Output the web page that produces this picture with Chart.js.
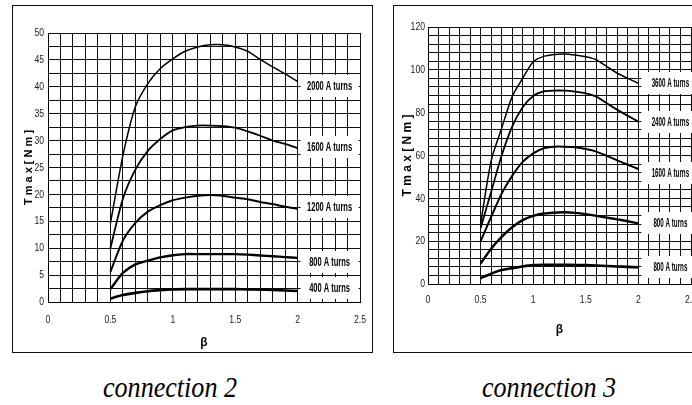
<!DOCTYPE html>
<html>
<head>
<meta charset="utf-8">
<script src="https://cdn.jsdelivr.net/npm/chart.js@4.4.1/dist/chart.umd.min.js"></script>
<style>
  html, body { margin: 0; padding: 0; background: #fff; }
  body { position: relative; width: 692px; height: 405px; overflow: hidden; }
  .box { position: absolute; border: 1.5px solid #111; box-sizing: border-box; }
  #box2 { left: 12px; top: 5px; width: 361px; height: 348px; }
  #box3 { left: 393px; top: 5px; width: 360px; height: 348px; }
  canvas { position: absolute; }
  #c2 { left: 13px; top: 6px; }
  #c3 { left: 394px; top: 6px; }
  .caption {
    position: absolute; top: 373px; width: 220px; text-align: center;
    font-family: "Liberation Serif", "Times New Roman", serif;
    font-style: italic; font-size: 29px; line-height: 29px;
    transform: scaleX(0.9); color: #000;
  }
  #cap2 { left: 60px; }
  #cap3 { left: 439px; }
</style>
</head>
<body>
<div class="box" id="box2"></div>
<div class="box" id="box3"></div>
<canvas id="c2" width="358" height="345"></canvas>
<canvas id="c3" width="340" height="345"></canvas>
<div class="caption" id="cap2">connection 2</div>
<div class="caption" id="cap3">connection 3</div>

<script>
// beta values shared by every curve
const betas = [0.5, 0.6, 0.7, 0.8, 0.9, 1.0, 1.1, 1.2, 1.3, 1.4, 1.5, 1.6, 1.7, 1.8, 1.9, 2.0];

// connection 2 - Tmax [Nm]
const conn2Labels = ['2000 A turns', '1600 A turns', '1200 A turns', '800 A turns', '400 A turns'];
const conn2T2000 = [14.6, 27.2, 36.3, 40.6, 43.4, 45.2, 46.6, 47.4, 47.8, 47.8, 47.4, 46.6, 45.1, 43.7, 42.4, 41.0];
const conn2T1600 = [10.0, 19.2, 24.6, 28.1, 30.3, 31.9, 32.5, 32.8, 32.8, 32.7, 32.4, 31.7, 30.9, 30.0, 29.4, 28.6];
const conn2T1200 = [5.6, 11.4, 14.7, 16.8, 18.0, 18.9, 19.4, 19.75, 19.9, 19.75, 19.4, 19.1, 18.6, 18.2, 17.7, 17.3];
const conn2T800 = [2.4, 5.4, 7.0, 7.7, 8.3, 8.7, 8.9, 8.9, 8.9, 8.9, 8.9, 8.8, 8.65, 8.5, 8.35, 8.2];
const conn2T400 = [0.65, 1.3, 1.7, 2.0, 2.2, 2.35, 2.4, 2.4, 2.4, 2.4, 2.4, 2.35, 2.3, 2.25, 2.15, 2.05];
const conn2LabelLevels = [40.1, 28.8, 17.6, 7.4, 2.6];

// connection 3 - Tmax [Nm]
const conn3Labels = ['3600 A turns', '2400 A turns', '1600 A turns', '800 A turns', '800 A turns'];
const conn3T3600 = [28.0, 57.5, 72.7, 87.5, 96.0, 103.8, 106.3, 107.2, 107.4, 106.9, 106.1, 104.7, 101.5, 98.4, 96.0, 93.7];
const conn3T2400 = [26.0, 43.0, 60.0, 73.5, 82.5, 87.8, 89.9, 90.3, 90.3, 89.8, 89.0, 87.5, 84.4, 81.3, 78.5, 75.8];
const conn3T1600 = [20.0, 31.3, 42.2, 50.5, 57.0, 61.0, 63.4, 64.1, 64.1, 63.8, 63.0, 61.8, 59.8, 57.7, 55.7, 53.7];
const conn3T800a = [9.5, 16.5, 22.0, 26.5, 29.8, 31.8, 32.9, 33.3, 33.5, 33.2, 32.6, 31.8, 31.0, 30.2, 29.3, 28.3];
const conn3T800b = [2.7, 4.8, 6.5, 7.4, 8.2, 8.8, 9.0, 9.0, 9.0, 8.9, 8.8, 8.6, 8.4, 8.2, 8.0, 7.8];
const conn3LabelLevels = [93.7, 75.8, 52.0, 28.3, 7.8];

const sans = '"Liberation Sans", Arial, sans-serif';

// draw text squeezed horizontally (the original uses a narrow face)
function squeezedText(ctx, text, px, py, sx, align) {
  ctx.save();
  ctx.translate(px, py);
  ctx.scale(sx, 1);
  ctx.textAlign = align;
  ctx.textBaseline = 'middle';
  ctx.fillText(text, 0, 0);
  ctx.restore();
}

// white boxes with the "A turns" text, right of the beta = 2 end
const turnLabels = {
  id: 'turnLabels',
  afterDatasetsDraw(chart, args, opts) {
    const { ctx, scales: { x, y } } = chart;
    const cx = x.getPixelForValue(2.0) + opts.offset;
    ctx.save();
    ctx.font = 'bold 13.5px ' + sans;
    const sx = opts.textWidth / ctx.measureText(opts.texts[0]).width;
    opts.texts.forEach((t, i) => {
      const cy = Math.round(y.getPixelForValue(opts.levels[i]));
      ctx.fillStyle = '#fff';
      ctx.fillRect(cx - opts.boxWidth / 2, cy - 11, opts.boxWidth, 22);
      ctx.fillStyle = '#000';
      squeezedText(ctx, t, cx, cy + 0.5, sx, 'center');
    });
    ctx.restore();
  }
};

// tick labels drawn at the scale's own tick positions, in a narrow look
const narrowTicks = {
  id: 'narrowTicks',
  afterDraw(chart, args, opts) {
    const { ctx, chartArea, scales: { x, y } } = chart;
    ctx.save();
    ctx.font = '11.5px ' + sans;
    ctx.fillStyle = '#222';
    x.ticks.forEach(t => {
      if (!onMultiple(t.value, 0.5)) return;
      squeezedText(ctx, String(+t.value.toFixed(1)), x.getPixelForValue(t.value), chartArea.bottom + opts.xGap, 0.75, 'center');
    });
    y.ticks.forEach(t => {
      if (!onMultiple(t.value, opts.yLabelStep)) return;
      squeezedText(ctx, String(t.value), chartArea.left - opts.yGap, y.getPixelForValue(t.value), 0.75, 'right');
    });
    ctx.restore();
  }
};

function toPoints(values) {
  return values.map((v, i) => ({ x: betas[i], y: v }));
}

function onMultiple(v, m) {
  return Math.abs(v / m - Math.round(v / m)) < 1e-6;
}

function buildChart(id, series, widths, yMax, yStep, lay, labelOpts, tickOpts) {
  return new Chart(document.getElementById(id), {
    type: 'line',
    data: {
      datasets: series.map((s, i) => ({
        data: toPoints(s),
        borderColor: '#000',
        borderWidth: widths[i],
        pointRadius: 0,
        fill: false,
        tension: 0.25
      }))
    },
    options: {
      responsive: false,
      animation: false,
      layout: { padding: { left: 0, right: lay.right, top: lay.top, bottom: 0 } },
      scales: {
        x: {
          type: 'linear',
          min: 0, max: 2.5,
          afterFit: s => { s.height = lay.xHeight; },
          grid: { color: '#111', lineWidth: 1, drawTicks: false },
          border: { display: true, color: '#000', width: 1 },
          ticks: { stepSize: 0.1, autoSkip: false, display: false },
          title: {
            display: true,
            text: 'β',
            color: '#000',
            font: { family: sans, size: 12, weight: 'bold' },
            padding: { top: 0, bottom: lay.xTitlePad }
          }
        },
        y: {
          min: 0, max: yMax,
          afterFit: s => { s.width = lay.yWidth; },
          grid: { color: '#111', lineWidth: 1, drawTicks: false },
          border: { display: true, color: '#000', width: 1 },
          ticks: { stepSize: yStep, autoSkip: false, display: false },
          title: {
            display: true,
            text: 'T m a x [ N m ]',
            color: '#000',
            font: { family: sans, size: lay.yTitleSize, weight: 'bold' },
            padding: { top: lay.yTitlePad, bottom: 0 }
          }
        }
      },
      plugins: {
        legend: { display: false },
        tooltip: { enabled: false },
        turnLabels: labelOpts,
        narrowTicks: tickOpts
      }
    },
    plugins: [turnLabels, narrowTicks]
  });
}

buildChart('c2',
  [conn2T2000, conn2T1600, conn2T1200, conn2T800, conn2T400],
  [1.5, 1.8, 2, 2.4, 2.6],
  50, 2.5,
  { right: 11, top: 27, xHeight: 49, yWidth: 35, xTitlePad: 1, yTitlePad: 9, yTitleSize: 11 },
  { texts: conn2Labels, levels: conn2LabelLevels, offset: 32, boxWidth: 58, textWidth: 45 },
  { xGap: 18, yGap: 4, yLabelStep: 5 }
);

buildChart('c3',
  [conn3T3600, conn3T2400, conn3T1600, conn3T800a, conn3T800b],
  [1.5, 1.8, 2, 2.4, 2.6],
  120, 4,
  { right: 43, top: 21, xHeight: 67, yWidth: 34, xTitlePad: 14, yTitlePad: 6, yTitleSize: 12 },
  { texts: conn3Labels, levels: conn3LabelLevels, offset: 32, boxWidth: 58, textWidth: 37.5 },
  { xGap: 16, yGap: 3, yLabelStep: 20 }
);
</script>
</body>
</html>
